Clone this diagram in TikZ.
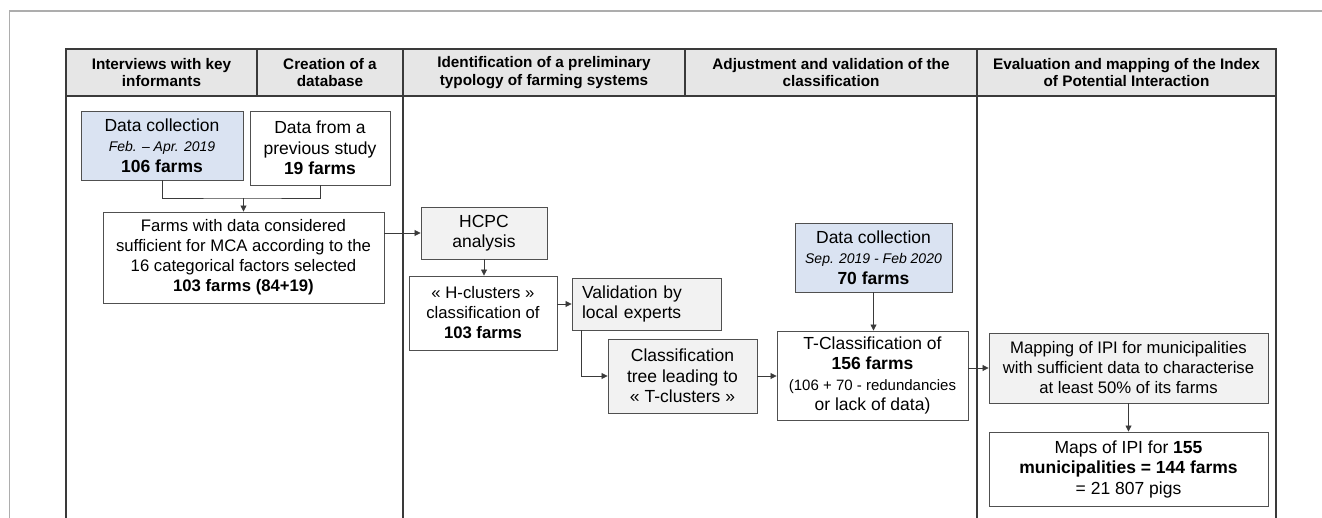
\documentclass[tikz,border=0pt]{standalone}
\usepackage{fontspec}
\setmainfont{Liberation Sans}
\usetikzlibrary{arrows.meta}

\definecolor{rule}{HTML}{3A3A3A}
\definecolor{frameline}{HTML}{ADADAD}
\definecolor{headfill}{HTML}{E6E6E6}
\definecolor{bluefill}{HTML}{DAE3F2}
\definecolor{grayfill}{HTML}{F2F2F2}
\definecolor{boxline}{HTML}{505050}

\tikzset{
  headtext/.style={align=center, inner sep=0pt, font=\bfseries\fontsize{15.3}{17.8}\selectfont},
  box/.style={draw=boxline, line width=0.9pt, inner sep=0pt, align=center,
              font=\fontsize{17.5}{20.5}\selectfont, fill=white},
  compact/.style={font=\fontsize{16.7}{20}\selectfont},
  bluebox/.style={box, fill=bluefill},
  graybox/.style={box, fill=grayfill},
  flow/.style={draw=rule, line width=0.8pt, -{Triangle[length=6pt,width=6pt]}},
  link/.style={draw=rule, line width=0.8pt},
  colrule/.style={draw=rule, line width=2.2pt},
  headrule/.style={draw=rule, line width=1.2pt}
}

\newcommand{\smallit}[1]{{\itshape\fontsize{14}{18}\selectfont #1}}

\begin{document}
\begin{tikzpicture}[x=1pt, y=-1pt]
  \useasboundingbox (0,0) rectangle (1322,518);
  \clip (0,0) rectangle (1322,518);

  % page frame
  \draw[frameline, line width=1.3pt] (1322,11) -- (9.5,11) -- (9.5,518);

  % table header
  \fill[headfill] (66,49) rectangle (1276,96);
  \draw[headrule] (66,49) -- (1276,49);
  \draw[headrule] (66,96) -- (1276,96);
  \draw[headrule] (257,49) -- (257,96);
  \draw[headrule] (685,49) -- (685,96);
  \foreach \x in {66,403,977,1276} \draw[colrule] (\x,48.4) -- (\x,518);

  \node[headtext] (h1) at (161.5,72.5) {Interviews with key\\informants};
  \node[headtext] (h2) at (330,72.5) {Creation of a\\database};
  \node[headtext] (h3) at (544,72.5) {Identification of a preliminary\\typology of farming systems};
  \node[headtext] (h4) at (831,72.5) {Adjustment and validation of the\\classification};
  \node[headtext] (h5) at (1126.5,72.5) {Evaluation and mapping of the Index\\of Potential Interaction};

  % boxes
  \node[bluebox, minimum width=162pt, minimum height=69pt] (dc1) at (162,145.5)
    {Data collection\\\smallit{Feb. – Apr. 2019}\\\textbf{106 farms}};
  \node[box, minimum width=140pt, minimum height=74pt] (prev) at (320,148)
    {Data from a\\previous study\\\textbf{19 farms}};
  \node[box, compact, minimum width=281pt, minimum height=91pt] (farms) at (243.5,257.5)
    {Farms with data considered\\sufficient for MCA according to the\\16 categorical factors selected\\\textbf{103 farms (84+19)}};
  \node[graybox, minimum width=126pt, minimum height=52pt] (hcpc) at (484,233)
    {HCPC\\analysis};
  \node[box, compact, minimum width=148pt, minimum height=74pt] (hclus) at (483,313)
    {« H-clusters »\\classification of\\\textbf{103 farms}};
  \node[graybox, text width=129pt, inner xsep=10pt, minimum height=52pt, align=left] (valid) at (646.5,304)
    {Validation by\\local experts};
  \node[graybox, minimum width=149pt, minimum height=74pt] (tree) at (682.5,376)
    {Classification\\tree leading to\\« T-clusters »};
  \node[bluebox, minimum width=157pt, minimum height=69pt] (dc2) at (873.5,257.5)
    {Data collection\\\smallit{Sep. 2019 - Feb 2020}\\\textbf{70 farms}};
  \node[box, minimum width=191pt, minimum height=89pt] (tclass) at (872.5,375.5)
    {T-Classification of\\\textbf{156 farms}\\\fontsize{15}{18}\selectfont (106 + 70 - redundancies\\or lack of data)};
  \node[graybox, compact, minimum width=279pt, minimum height=70pt] (mapping) at (1128.5,368)
    {Mapping of IPI for municipalities\\with sufficient data to characterise\\at least 50\% of its farms};
  \node[box, minimum width=279pt, minimum height=74pt] (maps) at (1128.5,469)
    {Maps of IPI for \textbf{155}\\\textbf{municipalities = 144 farms}\\= 21 807 pigs};

  % connectors
  \coordinate (join) at (243.5,198);
  \draw[link] (dc1.south) |- (join) -| (prev.south);
  \draw[flow] (join) -- (farms.north);
  \draw[flow] (farms.east |- hcpc.west) -- (hcpc.west);
  \draw[flow] (hcpc.south) -- (hclus.north -| hcpc.south);
  \draw[flow] (hclus.east |- valid.west) -- (valid.west);
  \draw[flow] ([xshift=10pt]valid.south west) |- (tree.west);
  \draw[flow] (tree.east) -- (tclass.west |- tree.east);
  \draw[flow] (dc2.south) -- (tclass.north -| dc2.south);
  \draw[flow] (tclass.east |- mapping.west) -- (mapping.west);
  \draw[flow] (mapping.south) -- (maps.north);
\end{tikzpicture}
\end{document}
